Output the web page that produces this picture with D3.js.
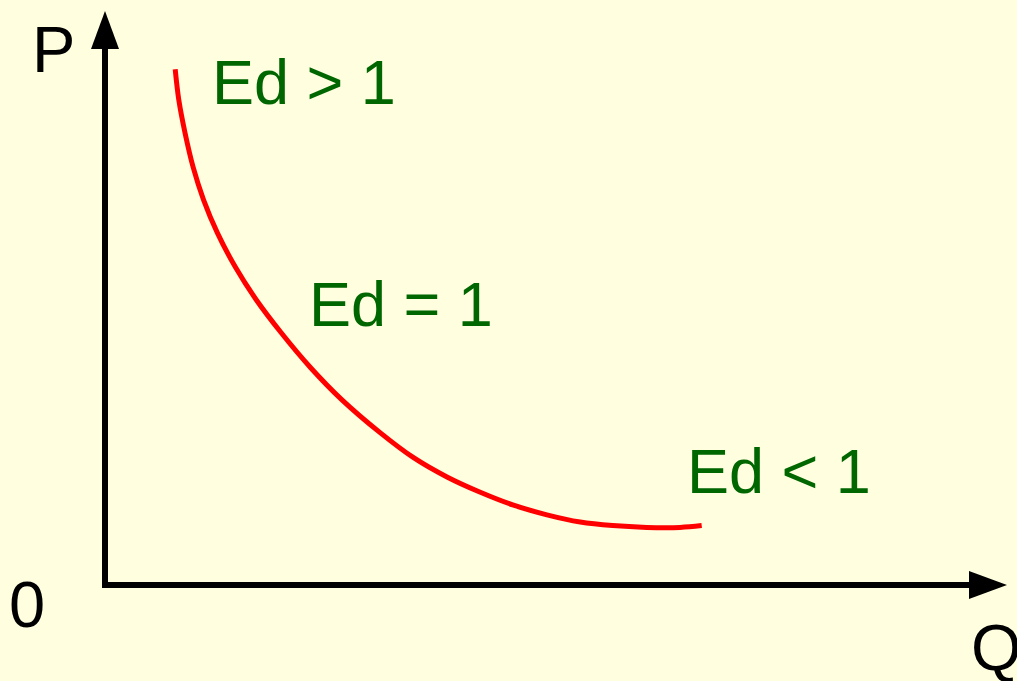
<!DOCTYPE html>
<html>
<head>
<meta charset="utf-8">
<script src="https://cdn.jsdelivr.net/npm/d3@7"></script>
<style>
  html, body { margin: 0; padding: 0; background: #FFFFE0; }
  svg { display: block; }
  text { font-family: "Liberation Sans", Arial, sans-serif; }
</style>
</head>
<body>
<svg id="chart" width="1017" height="681"></svg>
<script>
// Data (Q, P in arbitrary units)
const curveQ = [7.8, 8.2, 8.9, 9.8, 10.95, 12.5, 14.5, 16.8, 19.6, 22.8, 26.3, 30.6, 34.2, 38.0, 41.7, 45.3, 49.1, 52.8, 56.4, 60.2, 63.9, 66.3];
const curveP = [57.3, 53.9, 50.2, 46.4, 42.8, 39.1, 35.3, 31.7, 28.0, 24.2, 20.6, 16.9, 14.2, 12.0, 10.3, 8.9, 7.8, 7.0, 6.6, 6.4, 6.4, 6.6];
const regionLabels = ["Ed > 1", "Ed = 1", "Ed < 1"];
const axisLabels = ["P", "Q", "0"];

const svg = d3.select("#chart");
const W = 1017, H = 681;
svg.append("rect").attr("width", W).attr("height", H).attr("fill", "#FFFFE0");

const x = d3.scaleLinear().domain([0, 100]).range([105, 1005]);
const y = d3.scaleLinear().domain([0, 64]).range([585, 9]);

const ox = x(0), oy = y(0);
const tipY = 11, tipX = 1007, headLen = 38, headHalf = 14;

// axes
svg.append("line").attr("x1", ox).attr("y1", oy + 3).attr("x2", ox).attr("y2", tipY + headLen - 2)
  .attr("stroke", "#000").attr("stroke-width", 6);
svg.append("line").attr("x1", ox - 3).attr("y1", oy).attr("x2", tipX - headLen + 2).attr("y2", oy)
  .attr("stroke", "#000").attr("stroke-width", 6);
svg.append("polygon")
  .attr("points", [[ox, tipY], [ox - headHalf, tipY + headLen], [ox + headHalf, tipY + headLen]].map(p => p.join(",")).join(" "))
  .attr("fill", "#000");
svg.append("polygon")
  .attr("points", [[tipX, oy], [tipX - headLen, oy - headHalf], [tipX - headLen, oy + headHalf]].map(p => p.join(",")).join(" "))
  .attr("fill", "#000");

// curve
const pts = curveQ.map((q, i) => [q, curveP[i]]);
const line = d3.line().x(d => x(d[0])).y(d => y(d[1])).curve(d3.curveCatmullRom.alpha(0.5));
svg.append("path").attr("d", line(pts)).attr("fill", "none").attr("stroke", "#FF0000").attr("stroke-width", 5);

// region labels
const labelPos = [[212, 104], [309, 326], [687, 493]];
svg.selectAll("text.region").data(regionLabels).enter().append("text")
  .attr("class", "region")
  .attr("x", (d, i) => labelPos[i][0]).attr("y", (d, i) => labelPos[i][1])
  .attr("font-size", 63).attr("fill", "#006600").text(d => d);

// axis labels
const axisPos = [[32, 72], [971, 670], [9, 627]];
svg.selectAll("text.axis").data(axisLabels).enter().append("text")
  .attr("class", "axis")
  .attr("x", (d, i) => axisPos[i][0]).attr("y", (d, i) => axisPos[i][1])
  .attr("font-size", 65).attr("fill", "#000").text(d => d);
</script>
</body>
</html>
